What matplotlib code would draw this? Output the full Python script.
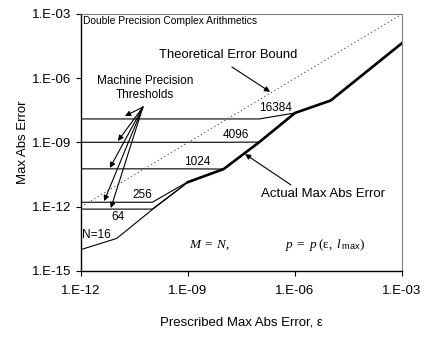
import matplotlib
matplotlib.use("Agg")
import matplotlib.pyplot as plt
import numpy as np

# ---- data (log10 values) ----
eps_log = [-12, -11, -10, -9, -8, -7, -6, -5, -4, -3]
n16 = [-14.00, -13.48, -12.13, -10.85, -10.24, -8.98, -7.62, -7.04, -5.70, -4.36]
n64 = [-12.11, -12.11, -12.11, -10.85, -10.24, -8.98, -7.62, -7.04, -5.70, -4.36]
n256 = [-11.79, -11.79, -11.79, -10.83, -10.24, -8.98, -7.62, -7.04, -5.70, -4.36]
n1024 = [-10.23, -10.23, -10.23, -10.23, -10.24, -8.98, -7.62, -7.04, -5.70, -4.36]
n4096 = [-8.99, -8.99, -8.99, -8.99, -8.99, -8.98, -7.62, -7.04, -5.70, -4.36]
n16384 = [-7.90, -7.90, -7.90, -7.90, -7.90, -7.90, -7.62, -7.04, -5.70, -4.36]
actual_eps_log = [-9, -8, -7, -6, -5, -4, -3]
actual = [-10.85, -10.24, -8.98, -7.62, -7.04, -5.70, -4.36]

xticks = [1e-12, 1e-9, 1e-6, 1e-3]
xticklabels = ["1.E-12", "1.E-09", "1.E-06", "1.E-03"]
yticks = [1e-15, 1e-12, 1e-9, 1e-6, 1e-3]
yticklabels = ["1.E-15", "1.E-12", "1.E-09", "1.E-06", "1.E-03"]

plt.rcParams['font.family'] = ['Liberation Sans', 'DejaVu Sans']
plt.rcParams['mathtext.fontset'] = 'custom'
plt.rcParams['mathtext.it'] = 'Liberation Serif:italic'
plt.rcParams['mathtext.rm'] = 'Liberation Serif'
plt.rcParams['mathtext.sf'] = 'Liberation Sans'

fig = plt.figure(figsize=(4.26, 3.37), dpi=100)
ax = fig.add_axes([81/426, 66/337, 321/426, 257/337])

eps = 10.0 ** np.array(eps_log)
thin = dict(color='black', lw=0.8)
for series in [n16, n64, n256, n1024, n4096, n16384]:
    ax.plot(eps, 10.0 ** np.array(series), **thin)

ax.plot(eps, eps, color='#444444', lw=0.8, linestyle=(0, (1, 2.5)))
ax.plot(10.0 ** np.array(actual_eps_log), 10.0 ** np.array(actual),
        color='black', lw=1.9, solid_joinstyle='miter')

ax.set_xscale('log')
ax.set_yscale('log')
ax.set_xlim(1e-12, 1e-3)
ax.set_ylim(1e-15, 1e-3)
ax.xaxis.set_major_locator(matplotlib.ticker.FixedLocator(xticks))
ax.yaxis.set_major_locator(matplotlib.ticker.FixedLocator(yticks))
ax.xaxis.set_minor_locator(matplotlib.ticker.NullLocator())
ax.yaxis.set_minor_locator(matplotlib.ticker.NullLocator())
ax.set_xticklabels(xticklabels)
ax.set_yticklabels(yticklabels)
ax.tick_params(axis='both', direction='out', length=3.8, width=0.8, labelsize=9.5)
ax.tick_params(axis='x', pad=6.5)
ax.tick_params(axis='y', pad=3)

for s in ['left', 'bottom']:
    ax.spines[s].set_color('black')
    ax.spines[s].set_linewidth(1.0)
for s in ['top', 'right']:
    ax.spines[s].set_color('#808080')
    ax.spines[s].set_linewidth(0.8)

ax.set_xlabel("Prescribed Max Abs Error, ε", fontsize=9.5, labelpad=14)
ax.set_ylabel("Max Abs Error", fontsize=9.5, labelpad=2)

T = ax.transAxes
ax.text(0.006, 0.973, "Double Precision Complex Arithmetics", transform=T,
        fontsize=7.4, ha='left', va='center')

arrow = dict(arrowstyle='-|>', lw=0.8, color='black', mutation_scale=8,
             shrinkA=0, shrinkB=0)

ax.text(0.458, 0.840, "Theoretical Error Bound", transform=T,
        fontsize=9.4, ha='center', va='center')
ax.annotate("", xy=(0.589, 0.697), xytext=(0.470, 0.794),
            xycoords=T, textcoords=T, arrowprops=arrow)

ax.text(0.754, 0.300, "Actual Max Abs Error", transform=T,
        fontsize=9.5, ha='center', va='center')
ax.annotate("", xy=(0.511, 0.455), xytext=(0.654, 0.335),
            xycoords=T, textcoords=T, arrowprops=arrow)

ax.text(0.199, 0.712, "Machine Precision\nThresholds", transform=T,
        fontsize=8.5, ha='center', va='center', linespacing=1.15)
heads = [(0.137, 0.603), (0.115, 0.506), (0.090, 0.401),
         (0.072, 0.272), (0.093, 0.245)]
for h in heads:
    ax.annotate("", xy=h, xytext=(0.193, 0.638),
                xycoords=T, textcoords=T, arrowprops=arrow)

labels = [("16384", 0.607, 0.634), ("4096", 0.483, 0.529),
          ("1024", 0.361, 0.424), ("256", 0.190, 0.296),
          ("64", 0.115, 0.210), ("N=16", 0.047, 0.140)]
for t, x, y in labels:
    ax.text(x, y, t, transform=T, fontsize=8.5, ha='center', va='center')

ax.text(0.399, 0.101, r"$M\;=\;N,$", transform=T, fontsize=9.5,
        ha='center', va='center')
ax.text(0.760, 0.101, r"$p\;=\;p\;(\mathrm{ε},\;l\,_{\mathsf{max}})$", transform=T,
        fontsize=9.5, ha='center', va='center')

fig.savefig("out.png", dpi=100)
